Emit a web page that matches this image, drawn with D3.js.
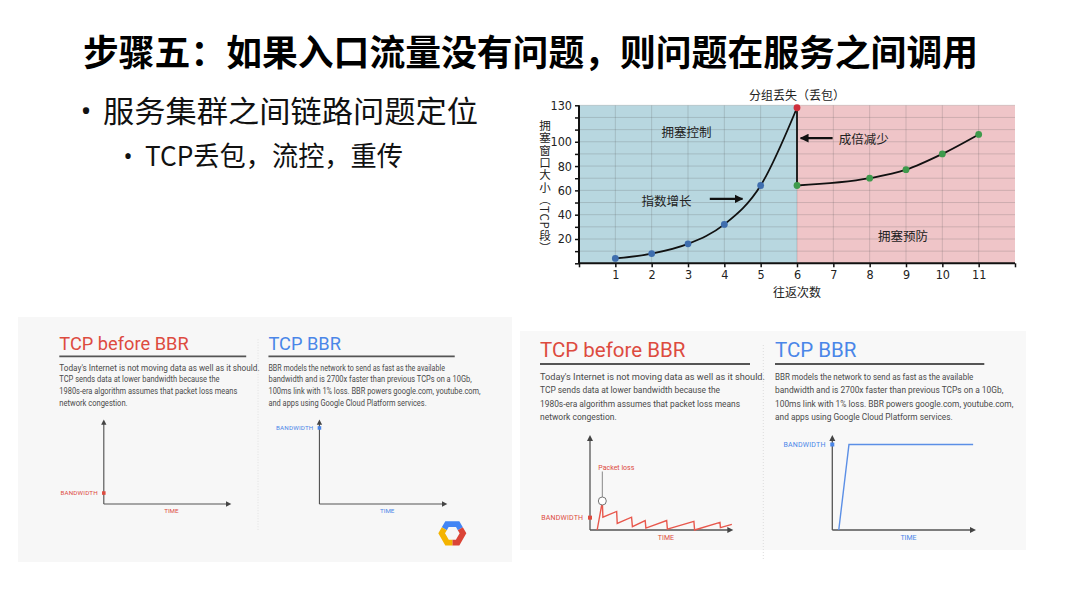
<!DOCTYPE html>
<html><head><meta charset="utf-8">
<script src="https://cdn.jsdelivr.net/npm/d3@7"></script>
<style>
html,body{margin:0;padding:0;background:#fff;}
svg{display:block;}
</style></head>
<body>
<svg id="c" width="1080" height="608"></svg>
<script>
// ---------- data ----------
const slideTitle = "步骤五：如果入口流量没有问题，则问题在服务之间调用";
const bullet1 = "服务集群之间链路问题定位";
const bullet2 = "TCP丢包，流控，重传";

// Congestion window chart
const roundTrips = [1, 2, 3, 4, 5, 6];
const cwndSlowStart = [4, 8, 16, 32, 64, 128];
const roundTripsAvoid = [6, 8, 9, 10, 11];
const cwndAvoid = [64, 70, 77, 90, 106];
const xTickValues = [1, 2, 3, 4, 5, 6, 7, 8, 9, 10, 11];
const yTickLabels = [20, 40, 60, 80, 100, 130];
const yMinorTicks = [0, 10, 20, 30, 40, 50, 60, 70, 80, 90, 100, 110, 120, 130];
const chartTitle = "分组丢失（丢包）";
const xAxisLabel = "往返次数";
const yAxisLabel = "拥塞窗口大小（TCP段）";
const regionLabels = ["拥塞控制", "拥塞预防"];
const arrowLabels = ["指数增长", "成倍减少"];

// BBR slides
const panelTitles = ["TCP before BBR", "TCP BBR"];
const beforeText = [
  "Today's Internet is not moving data as well as it should.",
  "TCP sends data at lower bandwidth because the",
  "1980s-era algorithm assumes that packet loss means",
  "network congestion."
];
const bbrText = [
  "BBR models the network to send as fast as the available",
  "bandwidth and is 2700x faster than previous TCPs on a 10Gb,",
  "100ms link with 1% loss. BBR powers google.com, youtube.com,",
  "and apps using Google Cloud Platform services."
];
// sawtooth (time %, bandwidth %)
const sawTime = [5, 8.6, 9, 18.6, 19, 29, 29.6, 38.5, 39, 53.5, 54, 72.5, 73, 90.7, 91, 99];
const sawBw   = [0, 30, 13.5, 19.5, 7, 13.5, 3.5, 10, 2, 10, 1, 9, 0, 8, 2.5, 6];
const bbrTime = [4.5, 11.6, 98];
const bbrBw   = [0, 90, 90];
const beforeBandwidthLevel = 13;
const bbrBandwidthLevel = 90;

// ---------- drawing ----------
const svg = d3.select("#c");
const CJK = "'Noto Sans CJK SC','Noto Sans',sans-serif";

// Slide title & bullets
svg.append("text").attr("x", 83).attr("y", 66)
  .attr("font-family", CJK).attr("font-weight", 700).attr("font-size", 36)
  .attr("fill", "#000").attr("textLength", 895).attr("lengthAdjust", "spacingAndGlyphs")
  .text(slideTitle);
svg.append("text").attr("x", 86).attr("y", 121).attr("text-anchor", "middle")
  .attr("font-family", "'Noto Sans',sans-serif").attr("font-size", 28).attr("fill", "#111").text("•");
svg.append("text").attr("x", 103).attr("y", 122).attr("font-family", CJK)
  .attr("font-size", 30).attr("fill", "#111")
  .attr("textLength", 375).attr("lengthAdjust", "spacingAndGlyphs").text(bullet1);
svg.append("text").attr("x", 128).attr("y", 165).attr("text-anchor", "middle")
  .attr("font-family", "'Noto Sans',sans-serif").attr("font-size", 24).attr("fill", "#111").text("•");
svg.append("text").attr("x", 145).attr("y", 166).attr("font-family", CJK)
  .attr("font-size", 27).attr("fill", "#111")
  .attr("textLength", 258).attr("lengthAdjust", "spacingAndGlyphs").text(bullet2);

// ---------- Congestion window chart ----------
const x = d3.scaleLinear().domain([0, 12]).range([579, 1015]);
const y = d3.scaleLinear().domain([0, 130]).range([263.3, 105.3]);
const cg = svg.append("g");
const chartFont = "'Noto Sans CJK SC',sans-serif";

cg.append("rect").attr("x", x(0)).attr("y", y(130)).attr("width", x(6) - x(0)).attr("height", y(0) - y(130))
  .attr("fill", "#b8d7e0");
cg.append("rect").attr("x", x(6)).attr("y", y(130)).attr("width", x(12) - x(6)).attr("height", y(0) - y(130))
  .attr("fill", "#efc5c8");
// grid
cg.append("g").selectAll("line").data(d3.range(1, 12)).join("line")
  .attr("x1", d => x(d)).attr("x2", d => x(d)).attr("y1", y(0)).attr("y2", y(130))
  .attr("stroke", "rgba(90,90,90,0.22)").attr("stroke-width", 1);
cg.append("g").selectAll("line").data(yMinorTicks.filter(v => v > 0)).join("line")
  .attr("x1", x(0)).attr("x2", x(12)).attr("y1", d => y(d)).attr("y2", d => y(d))
  .attr("stroke", "rgba(90,90,90,0.22)").attr("stroke-width", 1);

// axes
const yAx = cg.append("g").attr("transform", `translate(${x(0)},0)`)
  .call(d3.axisLeft(y).tickValues(yMinorTicks).tickSize(4).tickFormat(d => yTickLabels.includes(d) ? d : ""));
const xAx = cg.append("g").attr("transform", `translate(0,${y(0)})`)
  .call(d3.axisBottom(x).tickValues(d3.range(0, 13)).tickSize(4).tickFormat(d => xTickValues.includes(d) ? d : ""));
[yAx, xAx].forEach(a => {
  a.select(".domain").attr("stroke", "#111").attr("stroke-width", 2);
  a.selectAll(".tick line").attr("stroke", "#111").attr("stroke-width", 1.5);
  a.selectAll("text").attr("font-family", "'Liberation Sans Narrow','DejaVu Sans Condensed',sans-serif")
    .attr("font-size", 12.5).attr("fill", "#222");
});
yAx.select(".domain").attr("d", `M0,${y(0)}V${y(130)}`);
xAx.select(".domain").attr("d", `M${x(0)},0H${x(12)}`);

// lines
const line = d3.line().x(d => x(d[0])).y(d => y(d[1])).curve(d3.curveMonotoneX);
const ss = roundTrips.map((r, i) => [r, cwndSlowStart[i]]);
const ca = roundTripsAvoid.map((r, i) => [r, cwndAvoid[i]]);
cg.append("path").attr("d", line(ss)).attr("fill", "none").attr("stroke", "#111").attr("stroke-width", 1.8);
cg.append("path").attr("d", line(ca)).attr("fill", "none").attr("stroke", "#111").attr("stroke-width", 1.8);
cg.append("line").attr("x1", x(6)).attr("x2", x(6)).attr("y1", y(cwndSlowStart[5])).attr("y2", y(cwndAvoid[0]))
  .attr("stroke", "#111").attr("stroke-width", 1.8);
cg.append("g").selectAll("circle").data(ss.slice(0, 5)).join("circle")
  .attr("cx", d => x(d[0])).attr("cy", d => y(d[1])).attr("r", 3.4).attr("fill", "#3f6eae");
cg.append("circle").attr("cx", x(6)).attr("cy", y(128)).attr("r", 3.4).attr("fill", "#cf2f3c");
cg.append("g").selectAll("circle").data(ca).join("circle")
  .attr("cx", d => x(d[0])).attr("cy", d => y(d[1])).attr("r", 3.4).attr("fill", "#3e9a4c");

// arrows
const defs = svg.append("defs");
defs.append("marker").attr("id", "ah").attr("viewBox", "0 0 10 10").attr("refX", 9).attr("refY", 5)
  .attr("markerWidth", 4).attr("markerHeight", 4).attr("orient", "auto")
  .append("path").attr("d", "M0,0L10,5L0,10z").attr("fill", "#111");
cg.append("line").attr("x1", x(3.6)).attr("x2", x(4.5)).attr("y1", y(53)).attr("y2", y(53))
  .attr("stroke", "#111").attr("stroke-width", 2.2).attr("marker-end", "url(#ah)");
cg.append("line").attr("x1", x(6.98)).attr("x2", x(6.1)).attr("y1", y(103)).attr("y2", y(103))
  .attr("stroke", "#111").attr("stroke-width", 2.2).attr("marker-end", "url(#ah)");

// labels
const lab = (tx, ty, t, fs) => cg.append("text").attr("x", tx).attr("y", ty)
  .attr("text-anchor", "middle").attr("dominant-baseline", "central")
  .attr("font-family", chartFont).attr("font-size", fs || 12.5).attr("fill", "#222").text(t);
lab(x(2.96), y(108.3), regionLabels[0]);
lab(x(8.92), y(22.5), regionLabels[1]);
lab(x(2.41), y(52), arrowLabels[0]);
lab(x(7.84), y(103), arrowLabels[1]);
lab(x(6), 94, chartTitle, 12);
lab(x(6), 291, xAxisLabel, 12);
cg.append("text").attr("x", 545).attr("y", 120)
  .style("writing-mode", "vertical-rl")
  .attr("font-family", chartFont).attr("font-size", 11.5).attr("letter-spacing", 0.8).attr("fill", "#222")
  .text(yAxisLabel);

// ---------- BBR panels ----------
svg.append("rect").attr("x", 18).attr("y", 317).attr("width", 494).attr("height", 245).attr("fill", "#f7f7f7");
svg.append("rect").attr("x", 520).attr("y", 331).attr("width", 506).attr("height", 219).attr("fill", "#f8f8f8");

const RED = "#dd4b3f", BLUE = "#4a86e8", GRAY = "#555";
const ROB = "Roboto,'Open Sans',sans-serif";
// rendered line widths in the panel's own units
const beforeLineWidths = [225, 180, 200, 76.7];
const bbrLineWidths = [198.3, 228.3, 238.3, 177.7];

function drawPanel(g, showData, showLogo) {
  // titles
  g.append("text").attr("x", 0).attr("y", -7.3).attr("font-family", ROB).attr("font-size", 20.5)
    .attr("fill", RED).text(panelTitles[0]);
  g.append("text").attr("x", 235).attr("y", -7.3).attr("font-family", ROB).attr("font-size", 20.5)
    .attr("fill", BLUE).text(panelTitles[1]);
  g.append("line").attr("x1", 0).attr("x2", 210).attr("y1", 0).attr("y2", 0).attr("stroke", GRAY).attr("stroke-width", 2);
  g.append("line").attr("x1", 235).attr("x2", 444.3).attr("y1", 0).attr("y2", 0).attr("stroke", GRAY).attr("stroke-width", 2);
  g.append("line").attr("x1", 223.3).attr("x2", 223.3).attr("y1", -19).attr("y2", 196)
    .attr("stroke", "#ddd").attr("stroke-width", 1).attr("stroke-dasharray", "1,2");
  // body text
  g.append("g").selectAll("text").data(beforeText).join("text")
    .attr("x", 0).attr("y", (d, i) => 16 + i * 13.33).attr("font-family", ROB).attr("font-size", 9.2)
    .attr("textLength", (d, i) => beforeLineWidths[i]).attr("lengthAdjust", "spacingAndGlyphs")
    .attr("fill", "#4a4a4a").text(d => d);
  g.append("g").selectAll("text").data(bbrText).join("text")
    .attr("x", 235).attr("y", (d, i) => 16 + i * 13.33).attr("font-family", ROB).attr("font-size", 9.2)
    .attr("textLength", (d, i) => bbrLineWidths[i]).attr("lengthAdjust", "spacingAndGlyphs")
    .attr("fill", "#4a4a4a").text(d => d);

  // mini charts
  const yb = d3.scaleLinear().domain([0, 100]).range([166, 71]);
  const xl = d3.scaleLinear().domain([0, 100]).range([50, 193.3]);
  const xr = d3.scaleLinear().domain([0, 100]).range([292.3, 436]);
  [[xl, RED, beforeBandwidthLevel], [xr, BLUE, bbrBandwidthLevel]].forEach(([xs, col, lvl]) => {
    g.append("line").attr("x1", xs(0)).attr("x2", xs(0)).attr("y1", yb(0)).attr("y2", yb(100) + 5)
      .attr("stroke", GRAY).attr("stroke-width", 1.3);
    g.append("line").attr("x1", xs(0)).attr("x2", xs(100) - 5).attr("y1", yb(0)).attr("y2", yb(0))
      .attr("stroke", GRAY).attr("stroke-width", 1.3);
    g.append("path").attr("d", `M${xs(0) - 3},${yb(100) + 6}L${xs(0)},${yb(100)}L${xs(0) + 3},${yb(100) + 6}z`).attr("fill", "#444");
    g.append("path").attr("d", `M${xs(100) - 6},${yb(0) - 3}L${xs(100)},${yb(0)}L${xs(100) - 6},${yb(0) + 3}z`).attr("fill", "#444");
    g.append("rect").attr("x", xs(0) - 2).attr("y", yb(lvl) - 2).attr("width", 4).attr("height", 4).attr("fill", col);
    g.append("text").attr("x", xs(0) - 6.7).attr("y", yb(lvl)).attr("text-anchor", "end")
      .attr("dominant-baseline", "central").attr("font-family", ROB).attr("font-size", 7)
      .attr("letter-spacing", 0.2).attr("fill", col).text("BANDWIDTH");
    g.append("text").attr("x", xs(53)).attr("y", yb(0) + 8).attr("text-anchor", "middle")
      .attr("dominant-baseline", "central").attr("font-family", ROB).attr("font-size", 7)
      .attr("fill", col).text("TIME");
  });

  if (showData) {
    const ml = d3.line().x(d => d[0]).y(d => d[1]);
    g.append("path").attr("d", ml(sawTime.map((t, i) => [xl(t), yb(sawBw[i])])))
      .attr("fill", "none").attr("stroke", "#e8584d").attr("stroke-width", 1.4);
    g.append("path").attr("d", ml(bbrTime.map((t, i) => [xr(t), yb(bbrBw[i])])))
      .attr("fill", "none").attr("stroke", "#5b8fe6").attr("stroke-width", 1.4);
    const px = xl(sawTime[1]), py = yb(sawBw[1]);
    g.append("line").attr("x1", px).attr("x2", px).attr("y1", py - 30).attr("y2", py - 4)
      .attr("stroke", "#888").attr("stroke-width", 1);
    g.append("circle").attr("cx", px).attr("cy", py - 0.5).attr("r", 4).attr("fill", "#fff")
      .attr("stroke", "#777").attr("stroke-width", 1);
    g.append("text").attr("x", px - 4).attr("y", py - 34).attr("dominant-baseline", "central")
      .attr("font-family", ROB).attr("font-size", 7).attr("fill", RED).text("Packet loss");
  }
  if (showLogo) {
    const cx = 441.6, cy = 198.9, R = 12, w = 6.5;
    const pt = a => [cx + R * Math.cos(a * Math.PI / 180), cy - R * Math.sin(a * Math.PI / 180)];
    const mid = (a, b) => { const p = pt(a), q = pt(b); return [(p[0] + q[0]) / 2, (p[1] + q[1]) / 2]; };
    const segs = [
      ["#4285f4", [mid(120, 180), pt(120), pt(60), mid(60, 0)]],
      ["#db4437", [mid(60, 0), pt(0), pt(300), mid(300, 240)]],
      ["#f4b400", [mid(300, 240), pt(240), pt(180), mid(180, 120)]]
    ];
    segs.forEach(([c, pts]) => g.append("path").attr("d", d3.line()(pts)).attr("fill", "none")
      .attr("stroke", c).attr("stroke-width", w).attr("stroke-linejoin", "miter"));
  }
}
drawPanel(svg.append("g").attr("transform", "translate(59.3,356.3) scale(0.89)"), false, true);
drawPanel(svg.append("g").attr("transform", "translate(540,364)"), true, false);
</script>
</body></html>
